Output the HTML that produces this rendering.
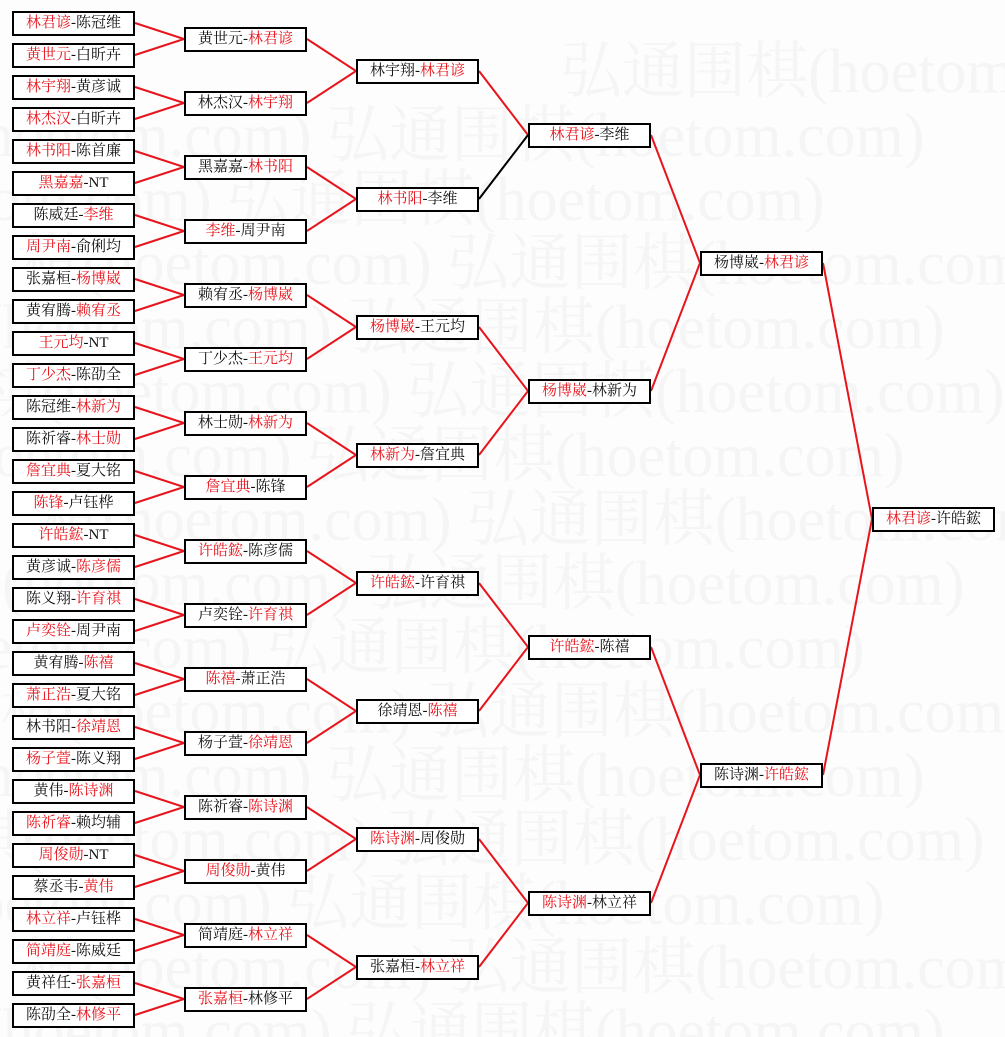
<!DOCTYPE html>
<html><head><meta charset="utf-8"><style>
html,body{margin:0;padding:0;width:1005px;height:1037px;overflow:hidden}
body{position:relative;background:#fdfdfd;font-family:"Liberation Serif","Noto Serif CJK SC",serif;}
.wmbox{position:absolute;left:0;top:0;width:1005px;height:1037px;overflow:hidden}
.wm{position:absolute;font-size:62px;color:#f5f5f5;white-space:nowrap;line-height:64px;}
.b{position:absolute;width:123px;height:25px;box-sizing:border-box;border:2px solid #000;background:#fff;text-align:center;font-size:15px;line-height:21px;color:#111;white-space:nowrap;}
.b i{font-style:normal;color:#e8141c}
svg{position:absolute;left:0;top:0}
</style></head><body>
<div class="wmbox">
<div class="wm" style="top:40px;left:560px">弘通围棋(hoetom.com)</div>
<div class="wm" style="top:104px;left:-100px">棋(hoetom.com) 弘通围棋(hoetom.com)</div>
<div class="wm" style="top:168px;left:-200px">棋(hoetom.com) 弘通围棋(hoetom.com)</div>
<div class="wm" style="top:232px;left:20px">棋(hoetom.com) 弘通围棋(hoetom.com)</div>
<div class="wm" style="top:296px;left:-80px">棋(hoetom.com) 弘通围棋(hoetom.com)</div>
<div class="wm" style="top:360px;left:-20px">棋(hoetom.com) 弘通围棋(hoetom.com)</div>
<div class="wm" style="top:424px;left:-120px">棋(hoetom.com) 弘通围棋(hoetom.com)</div>
<div class="wm" style="top:488px;left:40px">棋(hoetom.com) 弘通围棋(hoetom.com)</div>
<div class="wm" style="top:552px;left:-60px">棋(hoetom.com) 弘通围棋(hoetom.com)</div>
<div class="wm" style="top:616px;left:-160px">棋(hoetom.com) 弘通围棋(hoetom.com)</div>
<div class="wm" style="top:680px;left:0px">棋(hoetom.com) 弘通围棋(hoetom.com)</div>
<div class="wm" style="top:744px;left:-100px">棋(hoetom.com) 弘通围棋(hoetom.com)</div>
<div class="wm" style="top:808px;left:-40px">棋(hoetom.com) 弘通围棋(hoetom.com)</div>
<div class="wm" style="top:872px;left:-140px">棋(hoetom.com) 弘通围棋(hoetom.com)</div>
<div class="wm" style="top:936px;left:20px">棋(hoetom.com) 弘通围棋(hoetom.com)</div>
<div class="wm" style="top:1000px;left:-80px">棋(hoetom.com) 弘通围棋(hoetom.com)</div>
</div>
<svg width="1005" height="1037" viewBox="0 0 1005 1037">
<g fill="none" stroke="#e8141c" stroke-width="2">
<polyline points="135,23 184,39 135,55"/>
<polyline points="135,87 184,103 135,119"/>
<polyline points="135,151 184,167 135,183"/>
<polyline points="135,215 184,231 135,247"/>
<polyline points="135,279 184,295 135,311"/>
<polyline points="135,343 184,359 135,375"/>
<polyline points="135,407 184,423 135,439"/>
<polyline points="135,471 184,487 135,503"/>
<polyline points="135,535 184,551 135,567"/>
<polyline points="135,599 184,615 135,631"/>
<polyline points="135,663 184,679 135,695"/>
<polyline points="135,727 184,743 135,759"/>
<polyline points="135,791 184,807 135,823"/>
<polyline points="135,855 184,871 135,887"/>
<polyline points="135,919 184,935 135,951"/>
<polyline points="135,983 184,999 135,1015"/>
<polyline points="307,39 356,71 307,103"/>
<polyline points="307,167 356,199 307,231"/>
<polyline points="307,295 356,327 307,359"/>
<polyline points="307,423 356,455 307,487"/>
<polyline points="307,551 356,583 307,615"/>
<polyline points="307,679 356,711 307,743"/>
<polyline points="307,807 356,839 307,871"/>
<polyline points="307,935 356,967 307,999"/>
<polyline points="479,71 528,135"/>
<polyline points="479,327 528,391 479,455"/>
<polyline points="479,583 528,647 479,711"/>
<polyline points="479,839 528,903 479,967"/>
<polyline points="651,135 700,263 651,391"/>
<polyline points="651,647 700,775 651,903"/>
<polyline points="823,263 872,519 823,775"/>
</g>
<line x1="479" y1="199" x2="528" y2="135" stroke="#000" stroke-width="2"/>
</svg>
<div class="b" style="left:12px;top:11px"><i>林君谚</i>-陈冠维</div>
<div class="b" style="left:12px;top:43px"><i>黄世元</i>-白昕卉</div>
<div class="b" style="left:12px;top:75px"><i>林宇翔</i>-黄彦诚</div>
<div class="b" style="left:12px;top:107px"><i>林杰汉</i>-白昕卉</div>
<div class="b" style="left:12px;top:139px"><i>林书阳</i>-陈首廉</div>
<div class="b" style="left:12px;top:171px"><i>黑嘉嘉</i>-NT</div>
<div class="b" style="left:12px;top:203px">陈威廷-<i>李维</i></div>
<div class="b" style="left:12px;top:235px"><i>周尹南</i>-俞俐均</div>
<div class="b" style="left:12px;top:267px">张嘉桓-<i>杨博崴</i></div>
<div class="b" style="left:12px;top:299px">黄宥腾-<i>赖宥丞</i></div>
<div class="b" style="left:12px;top:331px"><i>王元均</i>-NT</div>
<div class="b" style="left:12px;top:363px"><i>丁少杰</i>-陈劭全</div>
<div class="b" style="left:12px;top:395px">陈冠维-<i>林新为</i></div>
<div class="b" style="left:12px;top:427px">陈祈睿-<i>林士勋</i></div>
<div class="b" style="left:12px;top:459px"><i>詹宜典</i>-夏大铭</div>
<div class="b" style="left:12px;top:491px"><i>陈锋</i>-卢钰桦</div>
<div class="b" style="left:12px;top:523px"><i>许皓鋐</i>-NT</div>
<div class="b" style="left:12px;top:555px">黄彦诚-<i>陈彦儒</i></div>
<div class="b" style="left:12px;top:587px">陈义翔-<i>许育祺</i></div>
<div class="b" style="left:12px;top:619px"><i>卢奕铨</i>-周尹南</div>
<div class="b" style="left:12px;top:651px">黄宥腾-<i>陈禧</i></div>
<div class="b" style="left:12px;top:683px"><i>萧正浩</i>-夏大铭</div>
<div class="b" style="left:12px;top:715px">林书阳-<i>徐靖恩</i></div>
<div class="b" style="left:12px;top:747px"><i>杨子萱</i>-陈义翔</div>
<div class="b" style="left:12px;top:779px">黄伟-<i>陈诗渊</i></div>
<div class="b" style="left:12px;top:811px"><i>陈祈睿</i>-赖均辅</div>
<div class="b" style="left:12px;top:843px"><i>周俊勋</i>-NT</div>
<div class="b" style="left:12px;top:875px">蔡丞韦-<i>黄伟</i></div>
<div class="b" style="left:12px;top:907px"><i>林立祥</i>-卢钰桦</div>
<div class="b" style="left:12px;top:939px"><i>简靖庭</i>-陈威廷</div>
<div class="b" style="left:12px;top:971px">黄祥任-<i>张嘉桓</i></div>
<div class="b" style="left:12px;top:1003px">陈劭全-<i>林修平</i></div>
<div class="b" style="left:184px;top:27px">黄世元-<i>林君谚</i></div>
<div class="b" style="left:184px;top:91px">林杰汉-<i>林宇翔</i></div>
<div class="b" style="left:184px;top:155px">黑嘉嘉-<i>林书阳</i></div>
<div class="b" style="left:184px;top:219px"><i>李维</i>-周尹南</div>
<div class="b" style="left:184px;top:283px">赖宥丞-<i>杨博崴</i></div>
<div class="b" style="left:184px;top:347px">丁少杰-<i>王元均</i></div>
<div class="b" style="left:184px;top:411px">林士勋-<i>林新为</i></div>
<div class="b" style="left:184px;top:475px"><i>詹宜典</i>-陈锋</div>
<div class="b" style="left:184px;top:539px"><i>许皓鋐</i>-陈彦儒</div>
<div class="b" style="left:184px;top:603px">卢奕铨-<i>许育祺</i></div>
<div class="b" style="left:184px;top:667px"><i>陈禧</i>-萧正浩</div>
<div class="b" style="left:184px;top:731px">杨子萱-<i>徐靖恩</i></div>
<div class="b" style="left:184px;top:795px">陈祈睿-<i>陈诗渊</i></div>
<div class="b" style="left:184px;top:859px"><i>周俊勋</i>-黄伟</div>
<div class="b" style="left:184px;top:923px">简靖庭-<i>林立祥</i></div>
<div class="b" style="left:184px;top:987px"><i>张嘉桓</i>-林修平</div>
<div class="b" style="left:356px;top:59px">林宇翔-<i>林君谚</i></div>
<div class="b" style="left:356px;top:187px"><i>林书阳</i>-李维</div>
<div class="b" style="left:356px;top:315px"><i>杨博崴</i>-王元均</div>
<div class="b" style="left:356px;top:443px"><i>林新为</i>-詹宜典</div>
<div class="b" style="left:356px;top:571px"><i>许皓鋐</i>-许育祺</div>
<div class="b" style="left:356px;top:699px">徐靖恩-<i>陈禧</i></div>
<div class="b" style="left:356px;top:827px"><i>陈诗渊</i>-周俊勋</div>
<div class="b" style="left:356px;top:955px">张嘉桓-<i>林立祥</i></div>
<div class="b" style="left:528px;top:123px"><i>林君谚</i>-李维</div>
<div class="b" style="left:528px;top:379px"><i>杨博崴</i>-林新为</div>
<div class="b" style="left:528px;top:635px"><i>许皓鋐</i>-陈禧</div>
<div class="b" style="left:528px;top:891px"><i>陈诗渊</i>-林立祥</div>
<div class="b" style="left:700px;top:251px">杨博崴-<i>林君谚</i></div>
<div class="b" style="left:700px;top:763px">陈诗渊-<i>许皓鋐</i></div>
<div class="b" style="left:872px;top:507px"><i>林君谚</i>-许皓鋐</div>
</body></html>
